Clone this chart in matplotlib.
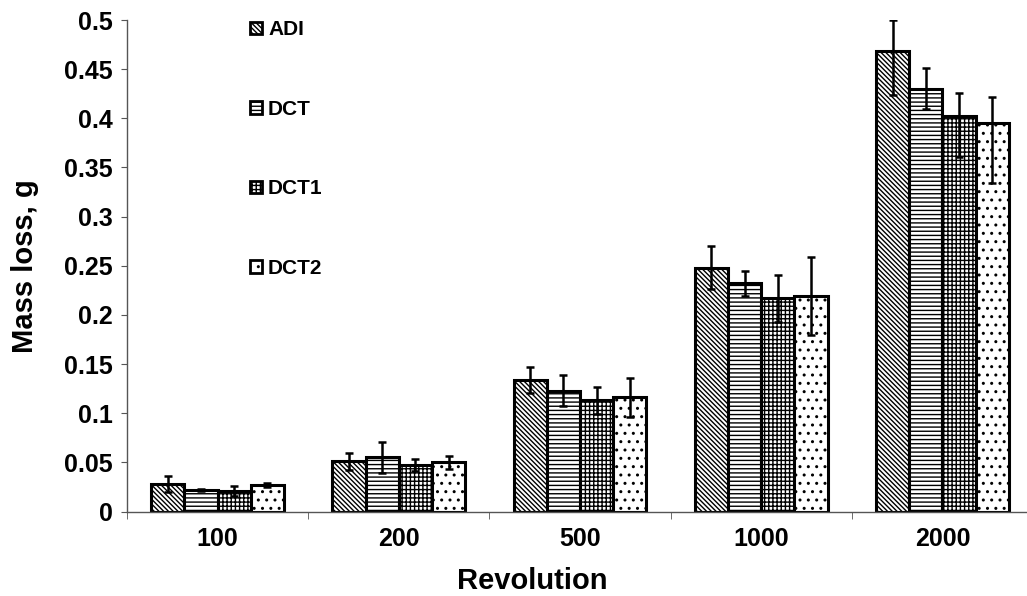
import matplotlib
matplotlib.use("Agg")
import matplotlib.pyplot as plt
import numpy as np
from matplotlib.patches import Patch

plt.rcParams['font.family'] = ['Liberation Sans', 'DejaVu Sans']
plt.rcParams['hatch.linewidth'] = 1.0

categories = ['100', '200', '500', '1000', '2000']
series = ['ADI', 'DCT', 'DCT1', 'DCT2']
values = {
    'ADI':  [0.028, 0.051, 0.134, 0.248, 0.468],
    'DCT':  [0.022, 0.055, 0.123, 0.232, 0.430],
    'DCT1': [0.021, 0.047, 0.113, 0.217, 0.402],
    'DCT2': [0.027, 0.050, 0.116, 0.219, 0.395],
}
err_low = {
    'ADI':  [0.0085, 0.0085, 0.0135, 0.022, 0.044],
    'DCT':  [0.0012, 0.0155, 0.0155, 0.0125, 0.021],
    'DCT1': [0.005, 0.006, 0.0135, 0.024, 0.041],
    'DCT2': [0.0018, 0.0065, 0.0195, 0.039, 0.061],
}
err_high = {
    'ADI':  [0.0085, 0.0085, 0.0135, 0.022, 0.032],
    'DCT':  [0.0012, 0.0155, 0.0155, 0.0125, 0.021],
    'DCT1': [0.005, 0.006, 0.0135, 0.024, 0.024],
    'DCT2': [0.0018, 0.0065, 0.0195, 0.040, 0.027],
}
hatches = {'ADI': '\\' * 7, 'DCT': '----', 'DCT1': '++++', 'DCT2': '..'}

fig = plt.figure(figsize=(10.27, 5.96), dpi=100)
ax = fig.add_axes([127/1027, 1 - 511.5/596, (1033 - 127)/1027, (511.5 - 20)/596])

x = np.arange(len(categories))
bw = 0.183
for i, s in enumerate(series):
    pos = x + (i - 1.5) * bw
    ax.bar(pos, values[s], width=bw, color='white', edgecolor='black',
           linewidth=2.2, hatch=hatches[s], zorder=2)
    ax.errorbar(pos, values[s], yerr=[err_low[s], err_high[s]], fmt='none',
                ecolor='black', elinewidth=1.8, capsize=3, capthick=1.8, zorder=3)

ax.set_xlim(-0.5, len(categories) - 0.5)
ax.set_ylim(0, 0.5)
ax.set_yticks(np.arange(0, 0.501, 0.05))
ax.set_yticklabels(['0', '0.05', '0.1', '0.15', '0.2', '0.25', '0.3', '0.35', '0.4', '0.45', '0.5'])
ax.set_xticks(x)
ax.set_xticklabels(categories)
ax.set_xticks(np.arange(-0.5, len(categories), 1.0), minor=True)
ax.tick_params(axis='x', which='major', length=0, pad=11)
ax.tick_params(axis='x', which='minor', length=5, direction='out', color='#555555')
ax.tick_params(axis='y', length=4, direction='out', color='#555555', pad=6)
for lab in ax.get_xticklabels() + ax.get_yticklabels():
    lab.set_fontsize(18)
    lab.set_fontweight('bold')

for sp in ['top', 'right']:
    ax.spines[sp].set_visible(False)
for sp in ['left', 'bottom']:
    ax.spines[sp].set_color('#555555')
    ax.spines[sp].set_linewidth(1.0)

ax.set_ylabel('Mass loss, g', fontsize=21, fontweight='bold')
ax.yaxis.set_label_coords((39 - 127) / 906, 0.5)
ax.set_xlabel('Revolution', fontsize=21, fontweight='bold', va='baseline')
ax.xaxis.set_label_coords((532 - 127) / 906, (511.5 - 589) / 491.5)

handles = [Patch(facecolor='white', edgecolor='black', linewidth=2, hatch=hatches[s], label=s)
           for s in series]
leg = ax.legend(handles=handles, loc='upper left', bbox_to_anchor=(0.127, 1.016),
                frameon=False, prop={'weight': 'bold', 'size': 15},
                handlelength=0.55, handleheight=0.55, handletextpad=0.3,
                labelspacing=2.90, borderaxespad=0)

fig.savefig('out.png', dpi=100)
